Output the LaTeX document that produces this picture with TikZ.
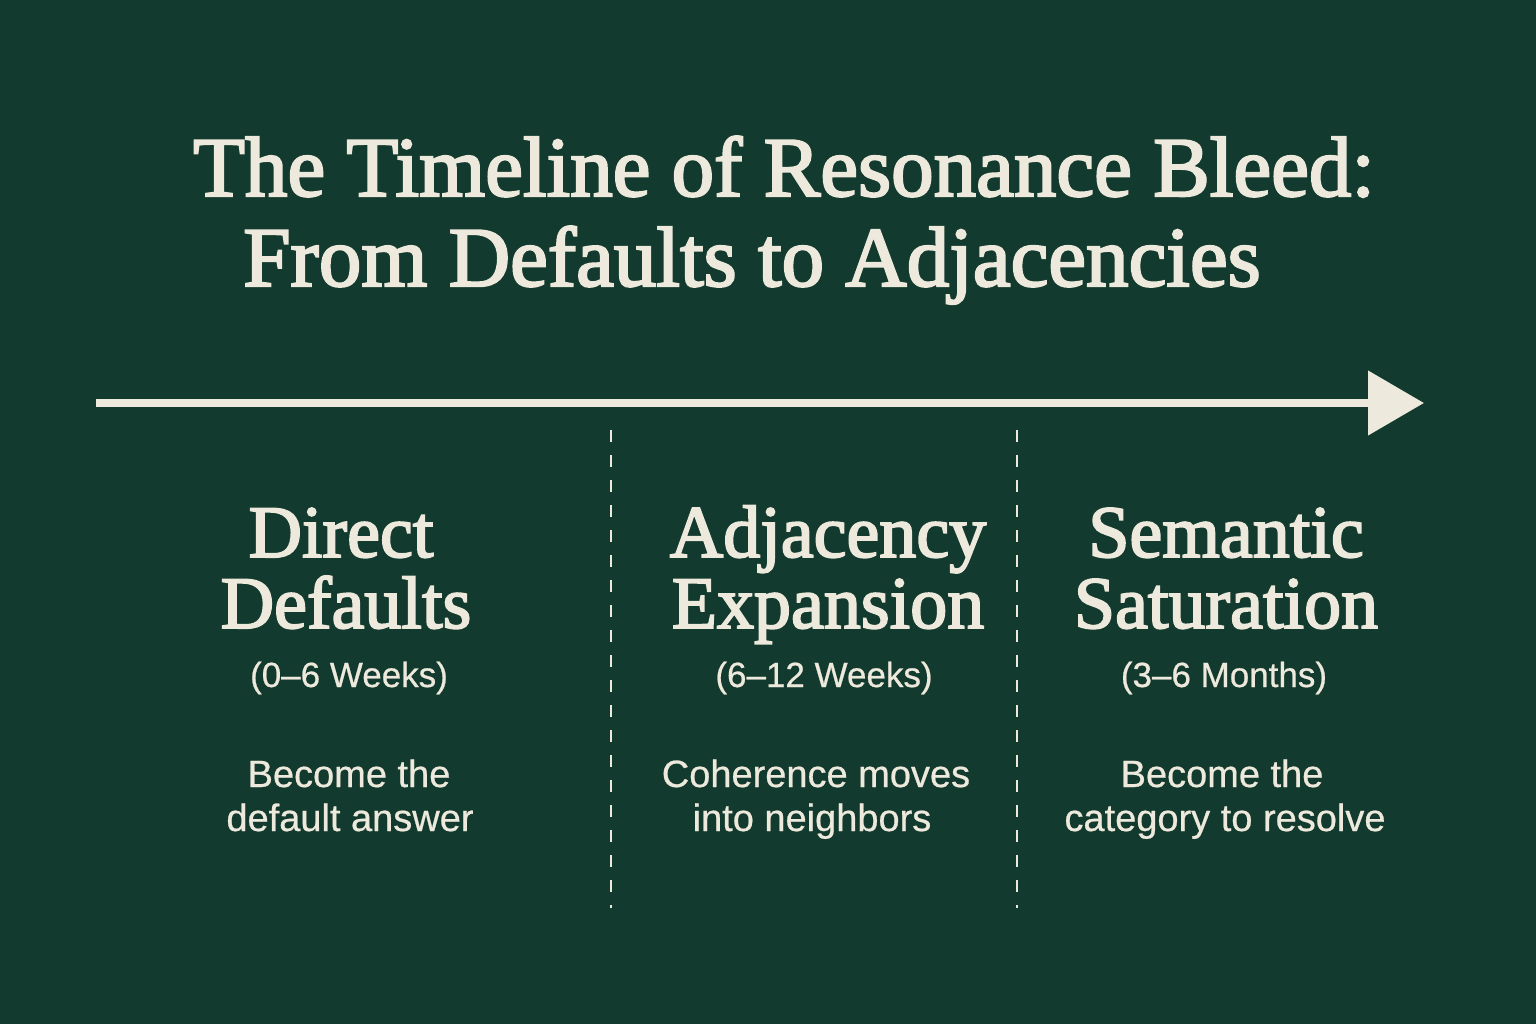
\documentclass[tikz,border=0pt]{standalone}
\usepackage{fontspec}
\usetikzlibrary{arrows.meta}
\setmainfont{Liberation Serif}
\newfontfamily\serifm{Liberation Serif}[FakeBold=2.5]
\newfontfamily\sansm{Liberation Sans}[FakeBold=0.6]
\definecolor{bggreen}{RGB}{19,58,46}
\definecolor{cream}{RGB}{237,234,221}
\tikzset{
  titletxt/.style={text=cream, inner sep=0pt, anchor=base, font=\serifm\fontsize{85}{100}\selectfont},
  headtxt/.style={text=cream, inner sep=0pt, anchor=base, font=\serifm\fontsize{74}{80}\selectfont},
  subtxt/.style={text=cream, inner sep=0pt, anchor=base, font=\sansm\fontsize{35}{40}\selectfont},
  bodytxt/.style={text=cream, inner sep=0pt, anchor=base, font=\sansm\fontsize{38}{44}\selectfont},
  divider/.style={draw=cream, line width=1.6pt, dash pattern=on 12pt off 13pt},
  timeline/.style={draw=cream, line width=8pt, -{Triangle[length=56pt,width=63pt]}},
}
\begin{document}
\begin{tikzpicture}[x=1pt,y=-1pt]
\fill[bggreen] (0,0) rectangle (1536,1024);
\useasboundingbox (0,0) rectangle (1536,1024);
% title
\node[titletxt] (t1) at (784,196) {The Timeline of Resonance Bleed:};
\node[titletxt] (t2) at (752,286) {From Defaults to Adjacencies};
% timeline arrow
\coordinate (aS) at (96,403);
\coordinate (aE) at (1424,403);
\draw[timeline] (aS) -- (aE);
% dividers
\coordinate (d1t) at (611,430);
\coordinate (d1b) at (611,908);
\coordinate (d2t) at (1017,430);
\coordinate (d2b) at (1017,908);
\draw[divider] (d1t) -- (d1b);
\draw[divider] (d2t) -- (d2b);
% column 1
\node[headtxt] (h1a) at (341,557) {Direct};
\node[headtxt] (h1b) at (346,628) {Defaults};
\node[subtxt] (s1) at (349,687) {(0–6 Weeks)};
\node[bodytxt] (b1a) at (349,787) {Become the};
\node[bodytxt] (b1b) at (350,831) {default answer};
% column 2
\node[headtxt] (h2a) at (828,557) {Adjacency};
\node[headtxt] (h2b) at (828,628) {Expansion};
\node[subtxt] (s2) at (824,687) {(6–12 Weeks)};
\node[bodytxt] (b2a) at (816,787) {Coherence moves};
\node[bodytxt] (b2b) at (812,831) {into neighbors};
% column 3
\node[headtxt] (h3a) at (1226,557) {Semantic};
\node[headtxt] (h3b) at (1226,628) {Saturation};
\node[subtxt] (s3) at (1224,687) {(3–6 Months)};
\node[bodytxt] (b3a) at (1222,787) {Become the};
\node[bodytxt] (b3b) at (1225,831) {category to resolve};
\end{tikzpicture}
\end{document}
